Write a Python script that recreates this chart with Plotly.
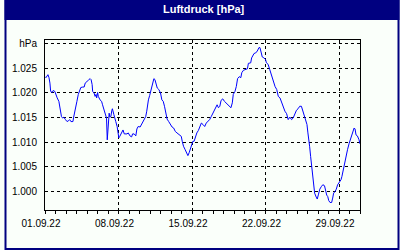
import pandas as pd
import plotly.graph_objects as go

# ---- data (days since 01.09.2022 00:00, pressure in hPa) ----
days = [
    0, .09, .28, .38, .47, .54, .69, .78, .94, 1.01,
    1.16, 1.32, 1.41, 1.48, 1.57, 1.69, 1.79, 1.95, 2.10, 2.26,
    2.35, 2.47, 2.66, 2.73, 2.82, 2.94, 3.04, 3.17, 3.29, 3.41,
    3.60, 3.73, 3.83, 3.98, 4.14, 4.30, 4.39, 4.49, 4.54, 4.67,
    4.77, 4.86, 4.92, 5.01, 5.08, 5.24, 5.39, 5.48, 5.61, 5.71,
    5.80, 5.86, 5.93, 5.99, 6.05, 6.11, 6.18, 6.27, 6.37, 6.42,
    6.56, 6.65, 6.74, 6.87, 6.96, 7.03, 7.12, 7.21, 7.31, 7.43,
    7.55, 7.81, 7.93, 8.09, 8.25, 8.34, 8.49, 8.65, 8.75, 8.87,
    9.06, 9.19, 9.28, 9.43, 9.59, 9.69, 9.75, 9.85, 9.97, 10.06,
    10.19, 10.28, 10.37, 10.47, 10.56, 10.69, 10.84, 11.00, 11.13, 11.26,
    11.38, 11.50, 11.63, 11.78, 11.94, 12.10, 12.25, 12.41, 12.57, 12.82,
    12.98, 13.07, 13.19, 13.35, 13.51, 13.61, 13.73, 13.83, 13.92, 14.08,
    14.20, 14.32, 14.46, 14.61,
    14.74, 14.89, 15.05, 15.21, 15.36, 15.52, 15.68, 15.83, 15.99, 16.15,
    16.30, 16.39, 16.52, 16.65, 16.77, 16.93, 17.09, 17.24, 17.40, 17.56,
    17.71, 17.84, 17.93, 18.09, 18.22, 18.34, 18.50, 18.65, 18.74, 18.90,
    19.12, 19.28, 19.37, 19.59, 19.68, 19.91, 20.06, 20.22, 20.38, 20.47,
    20.60, 20.69, 20.85, 21.00, 21.09, 21.25, 21.41, 21.54, 21.73, 21.85,
    21.91, 22.07, 22.22, 22.38, 22.54, 22.69, 22.85, 23.01, 23.16, 23.32,
    23.48, 23.63, 23.79, 23.95, 24.10, 24.26, 24.42, 24.52, 24.64, 24.80,
    24.95, 25.04, 25.14, 25.20, 25.30, 25.36, 25.42, 25.52, 25.61, 25.68,
    25.83, 25.93, 26.05, 26.17, 26.31, 26.46, 26.62, 26.71, 26.83, 26.93,
    27.02, 27.15, 27.30, 27.40, 27.49, 27.62, 27.74, 27.87, 28.03, 28.19,
    28.28, 28.37, 28.50, 28.59, 28.71, 28.81, 28.97, 29.13, 29.28, 29.44,
    29.53, 29.62, 29.75, 29.91, 29.99,
]
hpa = [
    1023.3, 1023.1, 1023.7, 1023.1, 1022.0, 1020.3, 1020.1, 1020.5, 1020.3, 1019.7,
    1019.0, 1018.3, 1017.3, 1016.3, 1015.2, 1014.9, 1015.1, 1014.6, 1014.2, 1014.4,
    1014.6, 1014.2, 1014.2, 1015.1, 1016.3, 1017.3, 1018.3, 1019.7, 1020.7, 1021.1,
    1021.2, 1021.2, 1022.0, 1022.4, 1022.6, 1022.9, 1022.7, 1021.7, 1020.3, 1020.0,
    1019.3, 1019.7, 1019.0, 1020.1, 1019.3, 1018.6, 1018.3, 1017.6, 1016.6, 1016.1,
    1015.2, 1014.9, 1010.5, 1013.2, 1015.2, 1015.9, 1015.1, 1015.2, 1016.5, 1016.8,
    1015.6, 1015.1, 1014.2, 1013.2, 1011.9, 1010.9, 1011.2, 1011.5, 1012.0, 1012.5,
    1011.7, 1011.7, 1011.9, 1011.3, 1011.1, 1011.7, 1011.7, 1011.3, 1012.7, 1013.2,
    1013.1, 1013.6, 1014.0, 1014.6, 1015.2, 1016.3, 1017.4, 1018.6, 1019.5, 1020.3,
    1021.3, 1022.0, 1022.9, 1022.7, 1021.7, 1021.0, 1020.7, 1020.0, 1018.6, 1018.3,
    1017.3, 1015.8, 1014.7, 1014.2, 1013.6, 1013.1, 1012.9, 1012.2, 1011.9, 1011.5,
    1011.2, 1010.2, 1009.2, 1008.5, 1007.8, 1007.3, 1007.9, 1008.5, 1009.2, 1010.2,
    1010.2, 1011.1, 1011.9, 1012.4,
    1013.1, 1013.9, 1013.6, 1013.2, 1013.9, 1014.2, 1014.6, 1015.2, 1015.9, 1016.5,
    1017.3, 1017.6, 1017.0, 1017.3, 1018.5, 1018.8, 1018.3, 1018.0, 1017.6, 1017.3,
    1017.0, 1018.0, 1019.7, 1020.3, 1021.3, 1022.9, 1023.3, 1023.1, 1024.1, 1024.6,
    1024.7, 1024.9, 1026.0, 1026.1, 1027.1, 1028.0, 1028.1, 1028.5, 1029.2, 1029.2,
    1028.1, 1027.3, 1027.1, 1026.8, 1026.1, 1025.8, 1024.7, 1023.7, 1022.4, 1021.7,
    1021.3, 1020.7, 1019.3, 1019.0, 1018.0, 1017.0, 1016.3, 1015.8, 1014.6, 1015.1,
    1014.6, 1014.9, 1015.8, 1016.5, 1016.8, 1017.3, 1017.3, 1016.6, 1015.6, 1014.9,
    1013.6, 1011.9, 1010.5, 1009.2, 1007.1, 1005.8, 1004.4, 1002.7, 1001.0, 999.7,
    998.9, 998.5, 999.5, 1000.5, 1001.0, 1001.4, 1001.2, 1000.0, 999.3, 999.0,
    998.2, 997.8, 997.8, 998.7, 999.7, 1000.0, 1000.5, 1001.4, 1002.0, 1002.4,
    1003.1, 1004.1, 1005.1, 1005.8, 1007.1, 1008.5, 1009.8, 1010.9, 1011.9, 1012.9,
    1012.7, 1011.5, 1011.3, 1010.5, 1009.7,
]
assert len(days) == len(hpa)

y_tickvals = [1000, 1005, 1010, 1015, 1020, 1025, 1030]
y_ticktext = ["1.000", "1.005", "1.010", "1.015", "1.020", "1.025", "hPa"]
title_text = "Luftdruck [hPa]"

start = pd.Timestamp("2022-09-01")
x = start + pd.to_timedelta(days, unit="D")

# ---- layout geometry ----
W, H = 400, 250
L, R, T, B = 41, 40, 40, 40
PW, PH = W - L - R, H - T - B
NAVY = "#000080"
BG = "#FAFFFA"
FONT = "Liberation Sans"


def px_x(p):
    return (p - L) / PW


def px_y(p):
    return (H - B - p) / PH


fig = go.Figure(go.Scatter(x=x, y=hpa, mode="lines",
                           line=dict(color="#0000FF", width=1),
                           hoverinfo="skip"))

fig.update_layout(
    width=W, height=H,
    margin=dict(l=L, r=R, t=T, b=B, pad=0),
    paper_bgcolor=BG, plot_bgcolor=BG,
    showlegend=False,
    font=dict(family=FONT, size=10, color="black"),
    xaxis=dict(
        type="date",
        range=[start, start + pd.Timedelta(days=30)],
        tick0=start, dtick=7 * 86400000, tickformat="%d.%m.%y",
        ticks="outside", ticklen=3, tickcolor="black", tickwidth=1,
        ticklabelshift=-4, ticklabelstandoff=1,
        showline=True, mirror=True, linecolor="black", linewidth=1,
        showgrid=True, gridcolor="black", gridwidth=1, griddash="3px,3px",
        zeroline=False,
        minor=dict(dtick=86400000, ticks="outside", ticklen=3,
                   tickcolor="black", tickwidth=1, showgrid=False),
        tickfont=dict(family=FONT, size=10, color="black"),
    ),
    yaxis=dict(
        range=[996.28, 1030.73],
        tickmode="array", tickvals=y_tickvals, ticktext=y_ticktext,
        ticks="", ticklabelstandoff=5,
        showline=True, mirror=True, linecolor="black", linewidth=1,
        showgrid=True, gridcolor="black", gridwidth=1, griddash="3px,3px",
        zeroline=False,
        tickfont=dict(family=FONT, size=10, color="black"),
    ),
    shapes=[
        dict(type="rect", xref="paper", yref="paper",
             x0=px_x(0), x1=px_x(W), y0=px_y(20), y1=px_y(0),
             fillcolor=NAVY, line=dict(width=0), layer="above"),
        dict(type="rect", xref="paper", yref="paper",
             x0=px_x(1), x1=px_x(W - 1), y0=px_y(H - 1), y1=px_y(1),
             fillcolor="rgba(0,0,0,0)", line=dict(color=NAVY, width=2),
             layer="above"),
    ],
    annotations=[
        dict(text="<b>" + title_text + "</b>", xref="paper", yref="paper",
             x=px_x(202), y=px_y(9.5), xanchor="center", yanchor="middle",
             showarrow=False,
             font=dict(family=FONT, size=11, color="white")),
    ],
)

fig.write_html("out.html")
